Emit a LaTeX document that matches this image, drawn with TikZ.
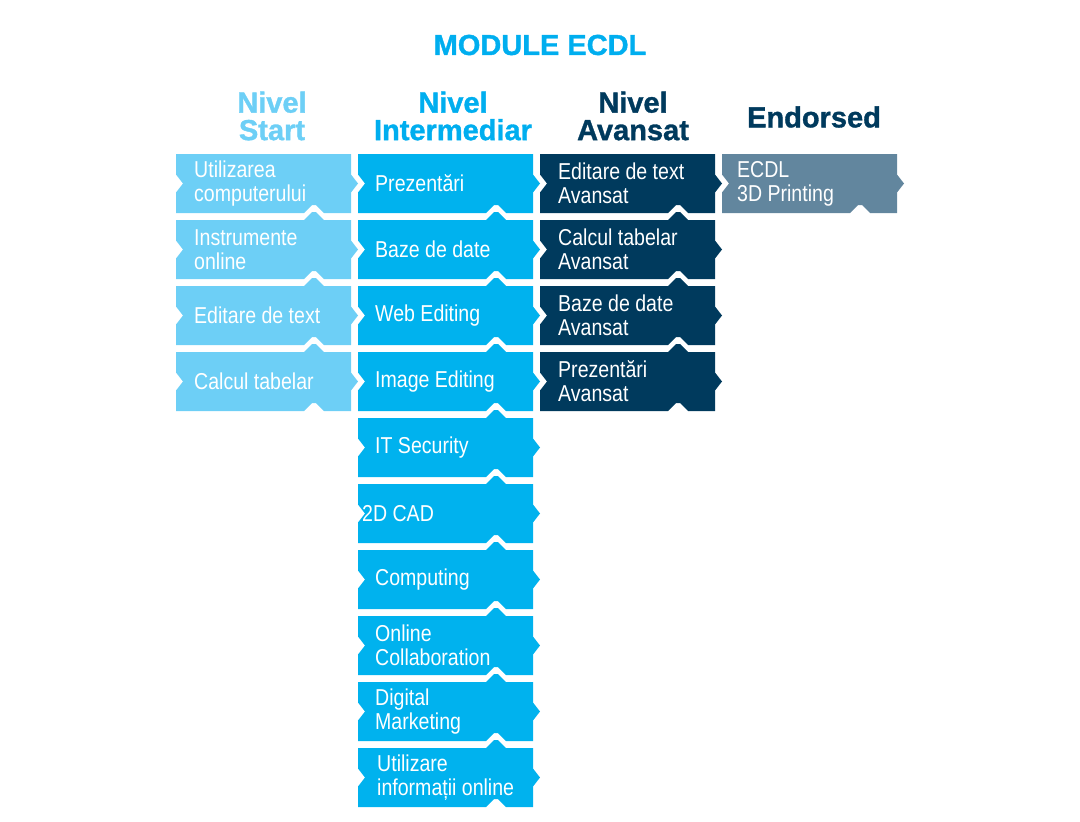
\documentclass[tikz,border=0pt]{standalone}
\usepackage{fontspec}
\setmainfont{Liberation Sans}
\newfontfamily\condfont{Liberation Sans}[FakeStretch=0.85]
\newfontfamily\headfont{Liberation Sans Bold}[FakeBold=1.2]
\usepackage{tikz}

\definecolor{startblau}{HTML}{6DCFF6}
\definecolor{interblau}{HTML}{00B2EE}
\definecolor{avansblau}{HTML}{003A5D}
\definecolor{endorsgrau}{HTML}{62869E}
\definecolor{titelblau}{HTML}{00AEEF}

\tikzset{
  modtext/.style={anchor=west, align=left, text=white, inner sep=0pt,
    font=\condfont\fontsize{23}{24}\selectfont},
  nivel/.style={align=center, inner sep=0pt,
    font=\headfont\fontsize{29}{27.5}\selectfont}
}

% #1 name, #2 left, #3 top, #4 colour, #5 top bump, #6 text inset, #7 text
\newcommand{\modul}[7]{%
  \fill[#4] (#2,#3) -- ++(128,0) -- ++(8,-#5) -- ++(4,0) -- ++(8,#5)
    -- (#2+175,#3) -- ++(0,20.5) -- ++(7,9) -- ++(-7,9)
    -- (#2+175,#3+59) -- (#2+148,#3+59) -- ++(-8,-8) -- ++(-4,0) -- ++(-8,8)
    -- (#2,#3+59) -- ++(0,-20.5) -- ++(7,-9) -- ++(-7,-9) -- cycle;
  \node[modtext] (#1) at (#2+#6,#3+29.5) {#7};
}

\begin{document}
\begin{tikzpicture}[x=1pt, y=-1pt]
    \useasboundingbox (0,0) rectangle (1080,822);

    \node[font=\headfont\fontsize{29}{29}\selectfont, text=titelblau, inner sep=0pt] (titel) at (540,45) {MODULE ECDL};

    \node[nivel, text=startblau] (start) at (272,116) {Nivel\\Start};
    \node[nivel, text=titelblau] (inter) at (453,116) {Nivel\\Intermediar};
    \node[nivel, text=avansblau] (avans) at (633,116) {Nivel\\Avansat};
    \node[nivel, text=avansblau] (endors) at (814,117) {Endorsed};

    % Nivel Start
    \modul{computer}{176}{154}{startblau}{0}{18}{Utilizarea\\computerului}
    \modul{online}{176}{220}{startblau}{8}{18}{Instrumente\\online}
    \modul{text}{176}{286}{startblau}{8}{18}{Editare de text}
    \modul{tabelar}{176}{352}{startblau}{8}{18}{Calcul tabelar}

    % Nivel Intermediar
    \modul{prezentari}{358}{154}{interblau}{0}{17}{Prezentări}
    \modul{baze}{358}{220}{interblau}{8}{17}{Baze de date}
    \modul{web}{358}{286}{interblau}{8}{17}{Web Editing}
    \modul{image}{358}{352}{interblau}{8}{17}{Image Editing}
    \modul{security}{358}{418}{interblau}{8}{17}{IT Security}
    \modul{cad}{358}{484}{interblau}{8}{4}{2D CAD}
    \modul{computing}{358}{550}{interblau}{8}{17}{Computing}
    \modul{collab}{358}{616}{interblau}{8}{17}{Online\\Collaboration}
    \modul{marketing}{358}{682}{interblau}{8}{17}{Digital\\Marketing}
    \modul{informatii}{358}{748}{interblau}{8}{19}{Utilizare\\informații online}

    % Nivel Avansat
    \modul{textav}{540}{154}{avansblau}{0}{18}{Editare de text\\Avansat}
    \modul{tabelarav}{540}{220}{avansblau}{8}{18}{Calcul tabelar\\Avansat}
    \modul{bazeav}{540}{286}{avansblau}{8}{18}{Baze de date\\Avansat}
    \modul{prezentariav}{540}{352}{avansblau}{8}{18}{Prezentări\\Avansat}

    % Endorsed
    \modul{printing}{722}{154}{endorsgrau}{0}{15}{ECDL\\3D Printing}
\end{tikzpicture}
\end{document}
